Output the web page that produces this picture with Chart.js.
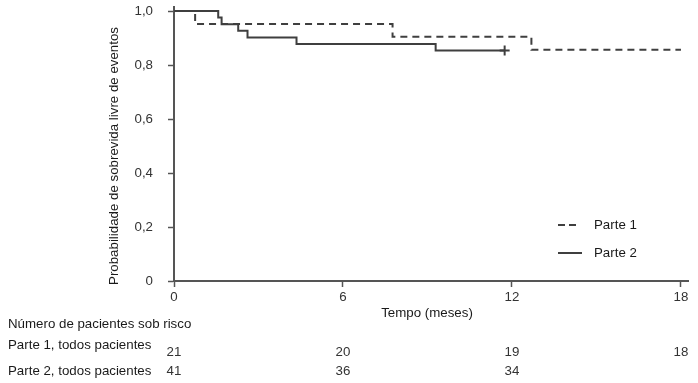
<!DOCTYPE html>
<html><head><meta charset="utf-8">
<script src="https://cdn.jsdelivr.net/npm/chart.js@4.4.1/dist/chart.umd.min.js"></script>
<style>html,body{margin:0;padding:0;background:#fff;}#wrap{width:698px;height:383px;position:relative;}</style>
</head><body><div id="wrap"><canvas id="c" width="698" height="383"></canvas></div>
<script>
// ---- data ----
const part1Times = [0, 0.75, 7.76, 12.69, 18];
const part1Surv  = [1, 0.952, 0.905, 0.857, 0.857];
const part2Times = [0, 1.57, 1.69, 2.28, 2.61, 4.35, 9.29, 11.74];
const part2Surv  = [1, 0.976, 0.951, 0.927, 0.902, 0.878, 0.854, 0.854];
const part2CensorTimes = [11.74];
const part2CensorSurv  = [0.854];
const xTicks = [0, 6, 12, 18];
const xTickLabels = ['0', '6', '12', '18'];
const yTicks = [0, 0.2, 0.4, 0.6, 0.8, 1.0];
const yTickLabels = ['0', '0,2', '0,4', '0,6', '0,8', '1,0'];
const seriesNames = ['Parte 1', 'Parte 2'];
const riskTimes = [0, 6, 12, 18];
const riskPart1 = [21, 20, 19, 18];
const riskPart2 = [41, 36, 34];
const riskRowLabels = ['Parte 1, todos pacientes', 'Parte 2, todos pacientes'];
const riskTitle = 'Número de pacientes sob risco';
const xTitle = 'Tempo (meses)';
const yTitle = 'Probabilidade de sobrevida livre de eventos';

const FONT = '"Liberation Sans", Arial, sans-serif';
const FS = 13.3;
const LINE = '#3f3f3f';
const AXIS = '#555555';
const TXT = '#1a1a1a';

const toPts = (xs, ys) => xs.map((x, i) => ({x: x, y: ys[i]}));

const textPlugin = {
  id: 'extraText',
  afterDraw(chart) {
    const ctx = chart.ctx;
    const xs = chart.scales.x;
    ctx.save();
    ctx.fillStyle = TXT;
    ctx.font = FS + 'px ' + FONT;
    ctx.textBaseline = 'middle';
    // x title
    ctx.textAlign = 'center';
    ctx.fillText(xTitle, 427, 313);
    // y title
    ctx.save();
    ctx.translate(114, 156);
    ctx.rotate(-Math.PI / 2);
    ctx.fillText(yTitle, 0, 0);
    ctx.restore();
    // risk table
    ctx.textAlign = 'left';
    ctx.fillText(riskTitle, 8, 324);
    ctx.fillText(riskRowLabels[0], 8, 345.5);
    ctx.fillText(riskRowLabels[1], 8, 371);
    ctx.textAlign = 'center';
    ctx.fillStyle = '#333';
    riskPart1.forEach((v, i) => ctx.fillText(String(v), xs.getPixelForValue(riskTimes[i]), 352));
    riskPart2.forEach((v, i) => ctx.fillText(String(v), xs.getPixelForValue(riskTimes[i]), 371));
    // legend
    ctx.fillStyle = TXT;
    ctx.textAlign = 'left';
    ctx.fillText(seriesNames[0], 594, 225);
    ctx.fillText(seriesNames[1], 594, 253);
    ctx.strokeStyle = LINE;
    ctx.lineWidth = 2;
    ctx.setLineDash([7, 4]);
    ctx.beginPath(); ctx.moveTo(558, 225); ctx.lineTo(576, 225); ctx.stroke();
    ctx.setLineDash([]);
    ctx.beginPath(); ctx.moveTo(558, 253); ctx.lineTo(582, 253); ctx.stroke();
    ctx.restore();
  }
};

new Chart(document.getElementById('c'), {
  type: 'line',
  data: {
    datasets: [
      {label: seriesNames[0], data: toPts(part1Times, part1Surv), stepped: 'before',
       borderColor: LINE, borderWidth: 2, borderDash: [7, 5], pointRadius: 0, fill: false},
      {label: seriesNames[1], data: toPts(part2Times, part2Surv), stepped: 'before',
       borderColor: LINE, borderWidth: 2, pointRadius: 0, fill: false},
      {label: 'censor', data: toPts(part2CensorTimes, part2CensorSurv), showLine: false,
       pointStyle: 'cross', pointRadius: 5, borderColor: LINE, borderWidth: 2}
    ]
  },
  options: {
    responsive: false,
    animation: false,
    devicePixelRatio: 1,
    layout: {padding: {top: 5, right: 10, left: 0, bottom: 0}},
    plugins: {legend: {display: false}, tooltip: {enabled: false}},
    scales: {
      x: {
        type: 'linear', min: 0, max: 18.25,
        afterBuildTicks: s => { s.ticks = xTicks.map(v => ({value: v})); },
        afterFit: s => { s.height = 102; s.paddingLeft = 0; s.paddingRight = 0; },
        ticks: {callback: (v, i) => xTickLabels[i], color: '#333', font: {size: FS, family: FONT}, padding: 2, maxRotation: 0, autoSkip: false},
        grid: {drawOnChartArea: false, drawTicks: true, tickLength: 6, color: AXIS, tickColor: AXIS, tickWidth: 1.5},
        border: {display: true, color: AXIS, width: 2}
      },
      y: {
        type: 'linear', min: 0, max: 1.015,
        afterBuildTicks: s => { s.ticks = yTicks.map(v => ({value: v})); },
        afterFit: s => { s.width = 174; s.paddingTop = 0; s.paddingBottom = 0; },
        ticks: {callback: (v, i) => yTickLabels[i], color: '#333', font: {size: FS, family: FONT}, padding: 15, autoSkip: false},
        grid: {drawOnChartArea: false, drawTicks: true, tickLength: 6, color: AXIS, tickColor: AXIS, tickWidth: 1.5},
        border: {display: true, color: AXIS, width: 2}
      }
    }
  },
  plugins: [textPlugin]
});
</script></body></html>
